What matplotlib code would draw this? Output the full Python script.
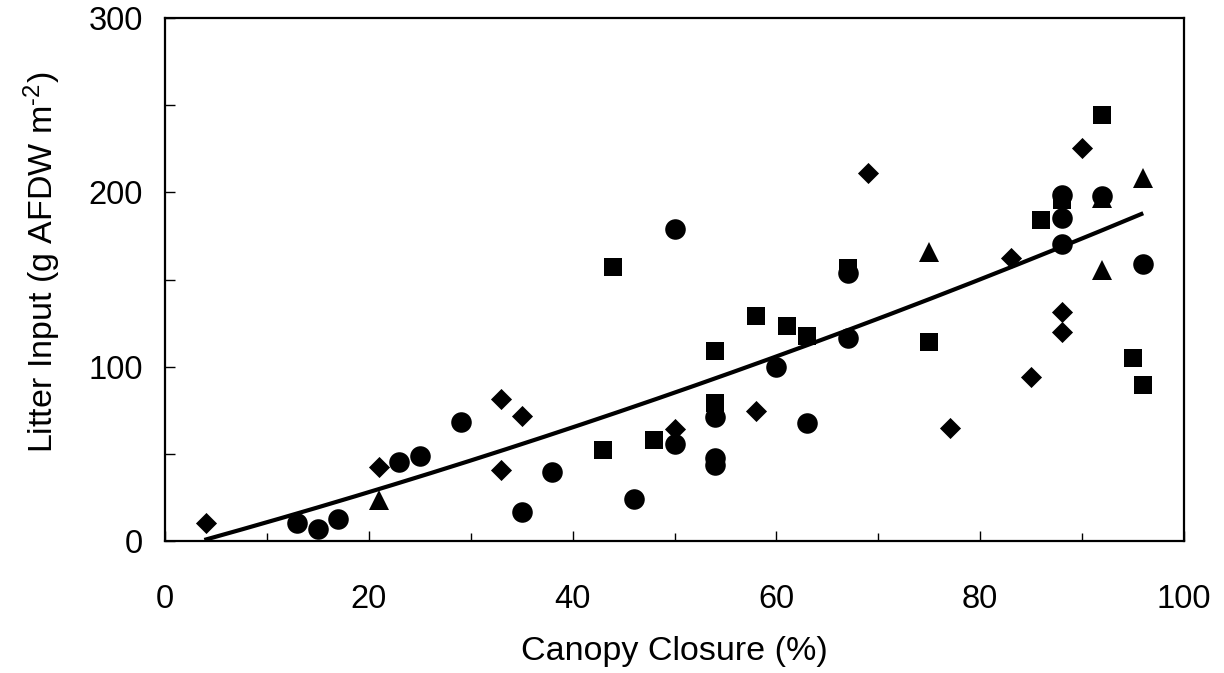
import numpy as np
import matplotlib
matplotlib.use("Agg")
import matplotlib.pyplot as plt

plt.rcParams['font.family'] = ['Liberation Sans', 'DejaVu Sans']
plt.rcParams['mathtext.fontset'] = 'custom'
plt.rcParams['mathtext.rm'] = 'Liberation Sans'
plt.rcParams['mathtext.it'] = 'Liberation Sans:italic'
plt.rcParams['mathtext.bf'] = 'Liberation Sans:bold'

# Litter input vs canopy closure, grouped by stream type (marker)
diamond_x = [4, 21, 33, 33, 35, 50, 58, 69, 77, 83, 85, 88, 88, 90]
diamond_y = [10.5, 42.6, 81.3, 40.7, 71.9, 64.1, 74.6, 210.9, 64.6, 162.2, 93.8, 131.2, 119.7, 225.3]

square_x = [43, 44, 48, 54, 54, 58, 61, 63, 67, 75, 86, 88, 92, 95, 96]
square_y = [52.2, 157.2, 57.9, 108.8, 79.0, 128.9, 123.3, 117.6, 156.4, 114.3, 184.1, 195.6, 244.4, 104.8, 89.5]

triangle_x = [21, 75, 92, 92, 96]
triangle_y = [23.5, 166.0, 197.0, 155.5, 208.0]

circle_x = [13, 15, 17, 23, 25, 29, 35, 38, 46, 50, 50, 54, 54, 54, 60, 63, 67, 67, 88, 88, 88, 92, 96]
circle_y = [10.5, 6.7, 12.4, 45.5, 48.8, 68.1, 16.8, 39.8, 24.1, 179.0, 55.6, 71.0, 47.4, 43.6, 100.0,
            67.5, 153.6, 116.3, 198.5, 185.1, 170.4, 198.0, 158.9]

# Quadratic regression curve y = a*x^2 + b*x + c over the sampled closure range
fit_coef = [0.004406, 1.594, -5.618]
fit_range = [3.86, 96.0]

fig = plt.figure(figsize=(12.24, 6.73), dpi=100)
ax = fig.add_axes([165 / 1224, (673 - 541) / 673, (1184 - 165) / 1224, (541 - 18) / 673])

mk = dict(color='black', linestyle='none', markeredgewidth=0)
ax.plot(diamond_x, diamond_y, marker=(4, 0, 0), markersize=15.2, **mk)
ax.plot(square_x, square_y, marker='s', markersize=13.2, **mk)
ax.plot(triangle_x, triangle_y, marker='^', markersize=14.8, **mk)
ax.plot(circle_x, circle_y, marker='o', markersize=14.8, **mk)

xf = np.linspace(fit_range[0], fit_range[1], 200)
ax.plot(xf, np.polyval(fit_coef, xf), color='black', linewidth=3.0, solid_capstyle='butt')

ax.set_xlim(0, 100)
ax.set_ylim(0, 300)
ax.set_xticks(np.arange(0, 101, 20))
ax.set_xticks(np.arange(10, 100, 20), minor=True)
ax.set_yticks(np.arange(0, 301, 100))
ax.set_yticks(np.arange(50, 300, 100), minor=True)

ax.tick_params(axis='both', which='both', direction='in', width=1.0, color='black', labelsize=23.5)
ax.tick_params(axis='x', which='major', length=7, pad=31)
ax.tick_params(axis='x', which='minor', length=5.5)
ax.tick_params(axis='y', which='major', length=7, pad=16)
ax.tick_params(axis='y', which='minor', length=7)
ax.tick_params(top=False, right=False)

for s in ax.spines.values():
    s.set_linewidth(1.6)

ax.set_xlabel('Canopy Closure (%)', fontsize=24.5, labelpad=15)
ax.set_ylabel(r'Litter Input (g AFDW m$^{\text{-}2}$)', fontsize=24.5)
ax.yaxis.set_label_coords(-0.1, 0.533)

fig.savefig('out.png', dpi=100)
